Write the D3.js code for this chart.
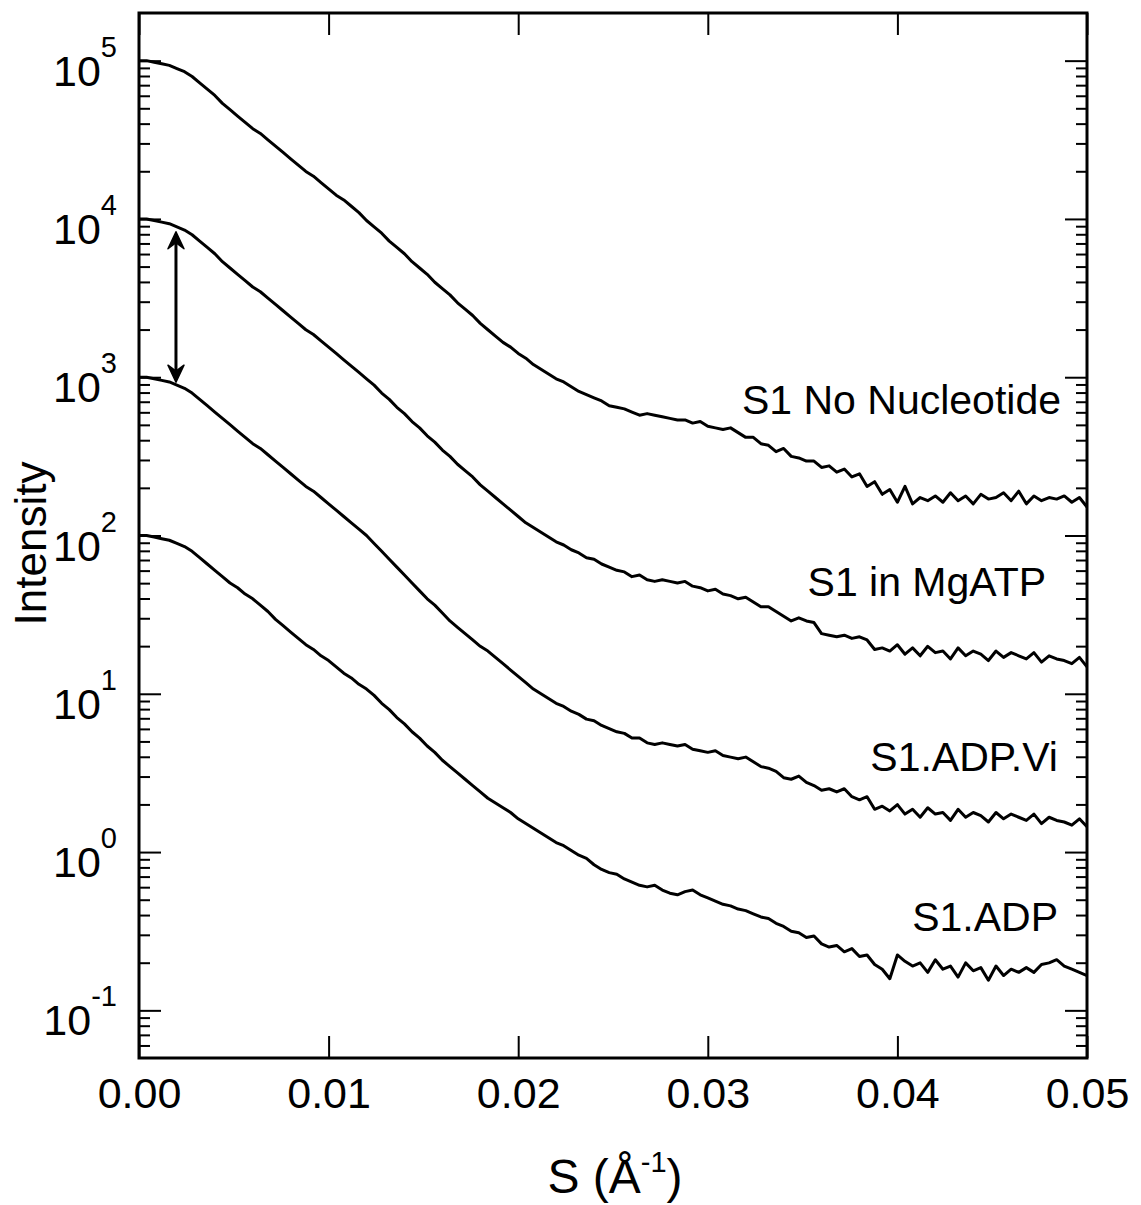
<!DOCTYPE html>
<html>
<head>
<meta charset="utf-8">
<script src="https://cdn.jsdelivr.net/npm/d3@7"></script>
<style>
body { margin: 0; background: #fff; }
text { font-family: "Liberation Sans", Arial, sans-serif; fill: #000; }
</style>
</head>
<body>
<script>
// scattering intensity, stored as log10(I), sampled every 0.0004 1/A
const sStep = 0.0004;

const noNucleotide = [5.00,5.00,4.99,4.98,4.97,4.95,4.93,4.90,4.86,4.82,
 4.78,4.73,4.69,4.65,4.61,4.57,4.54,4.50,4.46,4.42,
 4.38,4.34,4.30,4.27,4.23,4.19,4.15,4.12,4.08,4.04,
 3.99,3.95,3.91,3.86,3.82,3.78,3.73,3.69,3.65,3.60,
 3.56,3.52,3.47,3.43,3.39,3.34,3.30,3.26,3.22,3.19,
 3.15,3.12,3.08,3.05,3.02,2.99,2.97,2.94,2.91,2.89,
 2.87,2.85,2.82,2.81,2.80,2.78,2.76,2.77,2.76,2.75,
 2.74,2.73,2.73,2.71,2.72,2.69,2.68,2.67,2.68,2.65,
 2.62,2.62,2.58,2.57,2.53,2.55,2.50,2.49,2.47,2.47,
 2.43,2.44,2.40,2.42,2.37,2.39,2.31,2.34,2.26,2.29,
 2.21,2.31,2.20,2.24,2.22,2.25,2.21,2.27,2.22,2.25,
 2.20,2.26,2.23,2.24,2.27,2.22,2.28,2.20,2.25,2.22,
 2.24,2.23,2.25,2.21,2.24,2.18];

const mgATP = [4.00,4.00,3.99,3.98,3.97,3.95,3.93,3.90,3.86,3.82,
 3.78,3.73,3.69,3.65,3.61,3.57,3.54,3.50,3.46,3.42,
 3.38,3.34,3.30,3.27,3.23,3.19,3.15,3.11,3.07,3.03,
 2.99,2.95,2.90,2.86,2.81,2.77,2.72,2.68,2.63,2.59,
 2.54,2.50,2.45,2.41,2.37,2.32,2.28,2.24,2.20,2.16,
 2.12,2.08,2.05,2.02,1.99,1.96,1.94,1.91,1.89,1.86,
 1.85,1.82,1.80,1.78,1.77,1.74,1.75,1.72,1.71,1.72,
 1.71,1.70,1.71,1.68,1.67,1.65,1.66,1.63,1.62,1.60,
 1.61,1.58,1.55,1.55,1.52,1.49,1.46,1.48,1.46,1.45,
 1.38,1.37,1.36,1.37,1.35,1.36,1.34,1.28,1.29,1.27,
 1.31,1.25,1.29,1.24,1.30,1.26,1.27,1.22,1.29,1.24,
 1.27,1.25,1.21,1.27,1.23,1.26,1.24,1.22,1.26,1.20,
 1.24,1.22,1.21,1.19,1.23,1.17];

const adpVi = [3.00,3.00,2.99,2.98,2.97,2.95,2.93,2.90,2.86,2.82,
 2.78,2.74,2.70,2.66,2.62,2.58,2.55,2.51,2.47,2.43,
 2.39,2.35,2.31,2.28,2.24,2.20,2.16,2.12,2.08,2.04,
 2.00,1.95,1.90,1.85,1.80,1.75,1.70,1.65,1.60,1.56,
 1.51,1.46,1.42,1.38,1.34,1.30,1.27,1.23,1.19,1.15,
 1.11,1.07,1.03,1.00,0.97,0.94,0.92,0.89,0.87,0.84,
 0.83,0.80,0.78,0.76,0.75,0.72,0.72,0.69,0.68,0.69,
 0.68,0.67,0.68,0.65,0.64,0.63,0.64,0.61,0.60,0.59,
 0.60,0.57,0.54,0.53,0.51,0.47,0.46,0.48,0.44,0.42,
 0.39,0.40,0.38,0.40,0.35,0.33,0.35,0.27,0.29,0.26,
 0.30,0.24,0.27,0.22,0.28,0.24,0.25,0.20,0.27,0.22,
 0.25,0.23,0.19,0.25,0.21,0.24,0.22,0.20,0.24,0.18,
 0.22,0.20,0.19,0.17,0.21,0.16];

const adp = [2.00,2.00,1.99,1.98,1.97,1.95,1.93,1.90,1.86,1.82,
 1.78,1.74,1.70,1.67,1.63,1.60,1.56,1.52,1.47,1.43,
 1.39,1.35,1.31,1.28,1.24,1.21,1.17,1.13,1.10,1.06,
 1.03,0.99,0.94,0.90,0.85,0.81,0.76,0.72,0.67,0.63,
 0.58,0.54,0.50,0.46,0.42,0.38,0.34,0.31,0.28,0.25,
 0.21,0.18,0.15,0.12,0.09,0.06,0.04,0.01,-0.02,-0.04,
 -0.08,-0.11,-0.13,-0.14,-0.17,-0.19,-0.21,-0.22,-0.21,-0.24,
 -0.26,-0.27,-0.25,-0.24,-0.27,-0.29,-0.31,-0.33,-0.34,-0.36,
 -0.37,-0.39,-0.41,-0.42,-0.45,-0.47,-0.50,-0.51,-0.54,-0.53,
 -0.58,-0.60,-0.59,-0.63,-0.61,-0.66,-0.65,-0.71,-0.74,-0.80,
 -0.65,-0.69,-0.72,-0.70,-0.76,-0.68,-0.74,-0.72,-0.79,-0.70,
 -0.75,-0.73,-0.81,-0.72,-0.78,-0.74,-0.76,-0.73,-0.76,-0.71,
 -0.70,-0.68,-0.72,-0.74,-0.76,-0.78];

const seriesNames = ["S1 No Nucleotide", "S1 in MgATP", "S1.ADP.Vi", "S1.ADP"];
const labelS = [0.04863, 0.04784, 0.04847, 0.04847];
const labelI = [589, 41.7, 3.24, 0.316];

const xTicks = [0, 0.01, 0.02, 0.03, 0.04, 0.05];
const decades = [-1, 0, 1, 2, 3, 4, 5];

// double arrow between the 10^4 and 10^3 curves
const arrowS = 0.00195;
const arrowI = [8300, 930];

const width = 1141, height = 1205;
const margin = {top: 13, right: 54, bottom: 147, left: 139};
const innerW = width - margin.left - margin.right;
const innerH = height - margin.top - margin.bottom;

const svg = d3.select("body").append("svg")
    .attr("width", width)
    .attr("height", height);

const g = svg.append("g")
    .attr("transform", `translate(${margin.left},${margin.top})`);

const x = d3.scaleLinear().domain([0, 0.05]).range([0, innerW]);
const y = d3.scaleLog().domain([0.05, 2e5]).range([innerH, 0]);

// tick values for the log axis
const majorTicks = decades.map(d => Math.pow(10, d));
const minorTicks = [];
decades.concat([-2]).forEach(d => {
    for (let k = 2; k <= 9; k++) {
        const v = k * Math.pow(10, d);
        if (v > 0.05 && v < 2e5) minorTicks.push(v);
    }
});
const allY = majorTicks.concat(minorTicks);

function styleTicks(sel, major, minor, side) {
    sel.select(".domain").remove();
    sel.selectAll(".tick line")
        .attr("stroke", "#000")
        .attr("stroke-width", 2)
        .attr("x2", d => side * (majorTicks.includes(d) ? major : minor));
    sel.selectAll(".tick text").remove();
}

// left and right axes (ticks point inward)
g.append("g")
    .call(d3.axisLeft(y).tickValues(allY).tickSize(-10).tickFormat(""))
    .call(sel => styleTicks(sel, 22, 11, 1));

g.append("g")
    .attr("transform", `translate(${innerW},0)`)
    .call(d3.axisRight(y).tickValues(allY).tickSize(-10).tickFormat(""))
    .call(sel => styleTicks(sel, 22, 11, -1));

// bottom and top axes
const xb = g.append("g")
    .attr("transform", `translate(0,${innerH})`)
    .call(d3.axisBottom(x).tickValues(xTicks).tickSize(-22).tickFormat(d3.format(".2f")));
xb.select(".domain").remove();
xb.selectAll(".tick line").attr("stroke", "#000").attr("stroke-width", 2);
xb.selectAll(".tick text")
    .attr("y", 50)
    .attr("dy", 0)
    .attr("font-size", 43)
    .attr("font-family", "Liberation Sans, Arial, sans-serif");

const xt = g.append("g")
    .call(d3.axisTop(x).tickValues(xTicks).tickSize(-22).tickFormat(""));
xt.select(".domain").remove();
xt.selectAll(".tick line").attr("stroke", "#000").attr("stroke-width", 2);

// y tick labels 10^n
const ylab = g.append("g");
decades.forEach(d => {
    const t = ylab.append("text")
        .attr("x", -22)
        .attr("y", y(Math.pow(10, d)) + 25)
        .attr("text-anchor", "end")
        .attr("font-size", 43)
        .text("10");
    t.append("tspan")
        .attr("dy", -29)
        .attr("font-size", 29)
        .text(d);
});

// frame
g.append("rect")
    .attr("width", innerW)
    .attr("height", innerH)
    .attr("fill", "none")
    .attr("stroke", "#000")
    .attr("stroke-width", 3);

// curves
const line = d3.line()
    .x((d, i) => x(i * sStep))
    .y(d => y(Math.pow(10, d)));

[noNucleotide, mgATP, adpVi, adp].forEach(series => {
    g.append("path")
        .datum(series)
        .attr("fill", "none")
        .attr("stroke", "#000")
        .attr("stroke-width", 3)
        .attr("stroke-linejoin", "round")
        .attr("d", line);
});

// series labels
seriesNames.forEach((name, i) => {
    g.append("text")
        .attr("x", x(labelS[i]))
        .attr("y", y(labelI[i]))
        .attr("text-anchor", "end")
        .attr("font-size", 41)
        .text(name);
});

// arrow
const ax = x(arrowS);
const ay1 = y(arrowI[0]);
const ay2 = y(arrowI[1]);
g.append("line")
    .attr("x1", ax).attr("x2", ax)
    .attr("y1", ay1 + 8).attr("y2", ay2 - 8)
    .attr("stroke", "#000")
    .attr("stroke-width", 3);
g.append("path")
    .attr("d", `M${ax},${ay1} L${ax + 8},${ay1 + 17} L${ax},${ay1 + 11} L${ax - 8},${ay1 + 17} Z`
        + ` M${ax},${ay2} L${ax + 8},${ay2 - 17} L${ax},${ay2 - 11} L${ax - 8},${ay2 - 17} Z`)
    .attr("fill", "#000")
    .attr("stroke", "#000")
    .attr("stroke-width", 1.5)
    .attr("stroke-linejoin", "round");

// axis titles
svg.append("text")
    .attr("transform", `translate(46,${margin.top + innerH / 2 + 8}) rotate(-90)`)
    .attr("text-anchor", "middle")
    .attr("font-size", 44)
    .text("Intensity");

const xtitle = svg.append("text")
    .attr("x", margin.left + innerW / 2 + 2)
    .attr("y", 1193)
    .attr("text-anchor", "middle")
    .attr("font-size", 48)
    .text("S (Å");
xtitle.append("tspan").attr("dy", -21).attr("font-size", 29).text("-1");
xtitle.append("tspan").attr("dy", 21).text(")");
</script>
</body>
</html>
